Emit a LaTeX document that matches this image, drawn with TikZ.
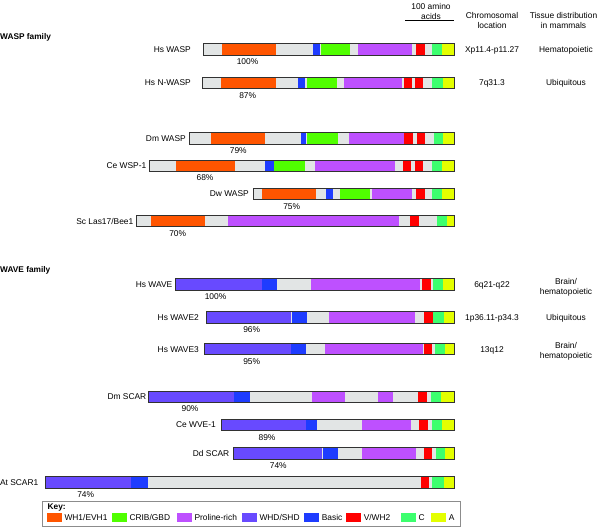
\documentclass[tikz,border=0pt]{standalone}
\usepackage{fontspec}
\setmainfont{Liberation Sans}
\definecolor{gapgray}{RGB}{226,229,229}
\definecolor{wsorange}{RGB}{255,85,0}
\definecolor{cribgreen}{RGB}{80,255,0}
\definecolor{prolinepurple}{RGB}{190,80,255}
\definecolor{whdviolet}{RGB}{104,74,255}
\definecolor{basicblue}{RGB}{30,60,255}
\definecolor{vred}{RGB}{255,0,0}
\definecolor{cgreen}{RGB}{60,255,110}
\definecolor{ayellow}{RGB}{228,255,0}
\definecolor{outlinegray}{RGB}{50,50,50}
\usetikzlibrary{positioning}

% one protein: top edge, left end, segments start/end/colour
\newcommand{\domainrow}[3]{%
  \foreach \sx/\ex/\col in {#3}
    \fill[\col] (\sx,#1) rectangle (\ex,#1+11.5);
  \draw[barline] (#2,#1) rectangle (454,#1+11.5);}

\begin{document}
\begin{tikzpicture}[x=1pt,y=-1pt,
    lbl/.style={font=\fontsize{8.4}{10}\selectfont, inner sep=0pt, text height=6pt, text depth=0pt},
    lbltwo/.style={font=\fontsize{8.4}{10}\selectfont, inner sep=0pt, align=center, anchor=north},
    family/.style={lbl, font=\fontsize{8.3}{10}\selectfont\bfseries, anchor=west},
    barline/.style={draw=outlinegray, line width=0.8pt}]
  \useasboundingbox (0,0) rectangle (600,528);

  % header
  \node[lbltwo] (scaletxt) at (431,3) {100 amino\\acids};
  \draw[line width=1.3pt] (405,20.7) -- (454,20.7);
  \node[lbltwo] (chromhead) at (492,12) {Chromosomal\\location};
  \node[lbltwo] (tissuehead) at (563.5,12) {Tissue distribution\\in mammals};

  % WASP family
  \node[family] (waspfam) at (0,36) {WASP family};

  \domainrow{43.8}{203}{203/221.5/gapgray, 221.5/275.5/wsorange, 275.5/313.4/gapgray,
    313.4/319.5/basicblue, 319.5/320.6/gapgray, 320.6/350.1/cribgreen, 350.1/358.1/gapgray,
    358.1/412.4/prolinepurple, 412.4/416.2/gapgray, 416.2/424.6/vred, 424.6/432.3/gapgray,
    432.3/442.4/cgreen, 442.4/454/ayellow}
  \node[lbl, anchor=east] (hswasp) at (191,49.55) {Hs WASP};
  \node[lbl] (hswasppct) at (247.5,61.6) {100\%};
  \node[lbl] (hswaspchr) at (492,49.55) {Xp11.4-p11.27};
  \node[lbl] (hswasptis) at (566,49.55) {Hematopoietic};

  \domainrow{77.2}{202.7}{202.7/221.2/gapgray, 221.2/275.6/wsorange, 275.6/298.4/gapgray,
    298.4/305.4/basicblue, 305.4/306.7/gapgray, 306.7/336.7/cribgreen, 336.7/343.9/gapgray,
    343.9/401.5/prolinepurple, 401.5/403.8/gapgray, 403.8/412.3/vred, 412.3/414.8/gapgray,
    414.8/423.3/vred, 423.3/432.3/gapgray, 432.3/442.7/cgreen, 442.7/454/ayellow}
  \node[lbl, anchor=east] (hsnwasp) at (191,82.95) {Hs N-WASP};
  \node[lbl] (hsnwasppct) at (247.7,95) {87\%};
  \node[lbl] (hsnwaspchr) at (492,82.95) {7q31.3};
  \node[lbl] (hsnwasptis) at (566,82.95) {Ubiquitous};

  \domainrow{132.6}{189}{189/210.7/gapgray, 210.7/265/wsorange, 265/301/gapgray,
    301/306/basicblue, 306/306.8/gapgray, 306.8/338.3/cribgreen, 338.3/348.7/gapgray,
    348.7/404.3/prolinepurple, 404.3/413.3/vred, 413.3/416.7/gapgray, 416.7/424.7/vred,
    424.7/433.7/gapgray, 433.7/443.3/cgreen, 443.3/454/ayellow}
  \node[lbl, anchor=east] (dmwasp) at (186,138.35) {Dm WASP};
  \node[lbl] (dmwasppct) at (238.3,150.4) {79\%};

  \domainrow{159.9}{149.3}{149.3/176/gapgray, 176/234.7/wsorange, 234.7/265/gapgray,
    265/274/basicblue, 274/305.3/cribgreen, 305.3/315.3/gapgray, 315.3/395.3/prolinepurple,
    395.3/402.7/gapgray, 402.7/411/vred, 411/414.7/gapgray, 414.7/423/vred,
    423/432/gapgray, 432/441.7/cgreen, 441.7/454/ayellow}
  \node[lbl, anchor=east] (cewsp) at (146.5,165.65) {Ce WSP-1};
  \node[lbl] (cewsppct) at (205,177.7) {68\%};

  \domainrow{188.2}{253.3}{253.3/261.7/gapgray, 261.7/315.7/wsorange, 315.7/326/gapgray,
    326/332.7/basicblue, 332.7/340/gapgray, 340/370/cribgreen, 370/372.3/gapgray,
    372.3/412/prolinepurple, 412/416.3/gapgray, 416.3/424.7/vred, 424.7/432.3/gapgray,
    432.3/442/cgreen, 442/454/ayellow}
  \node[lbl, anchor=east] (dwwasp) at (249,193.95) {Dw WASP};
  \node[lbl] (dwwasppct) at (291.7,206) {75\%};

  \domainrow{215.3}{136.7}{136.7/151/gapgray, 151/205.3/wsorange, 205.3/227.7/gapgray,
    227.7/399/prolinepurple, 399/409.5/gapgray, 409.5/418.7/vred, 418.7/437/gapgray,
    437/446.7/cgreen, 446.7/454/ayellow}
  \node[lbl, anchor=east] (sclas) at (133.5,221.05) {Sc Las17/Bee1};
  \node[lbl] (sclaspct) at (177.7,233.1) {70\%};

  % WAVE family
  \node[family] (wavefam) at (0,269.5) {WAVE family};

  \domainrow{278.4}{175.5}{175.5/261.5/whdviolet, 261.5/262.3/gapgray, 262.3/277.4/basicblue,
    277.4/311.1/gapgray, 311.1/419.9/prolinepurple, 419.9/421.9/gapgray, 421.9/430.6/vred,
    430.6/433.2/gapgray, 433.2/443.3/cgreen, 443.3/454/ayellow}
  \node[lbl, anchor=east] (hswave) at (172.5,284.15) {Hs WAVE};
  \node[lbl] (hswavepct) at (215.5,296.2) {100\%};
  \node[lbl] (hswavechr) at (492,284.15) {6q21-q22};
  \node[lbltwo] (hswavetis) at (566,278.7) {Brain/\\hematopoietic};

  \domainrow{311.6}{206}{206/290.8/whdviolet, 290.8/291.5/gapgray, 291.5/307/basicblue,
    307/329.1/gapgray, 329.1/415.1/prolinepurple, 415.1/423.8/gapgray, 423.8/432.9/vred,
    432.9/433.4/gapgray, 433.4/443.9/cgreen, 443.9/454/ayellow}
  \node[lbl, anchor=east] (hswavetwo) at (199,317.35) {Hs WAVE2};
  \node[lbl] (hswavetwopct) at (251.7,329.4) {96\%};
  \node[lbl] (hswavetwochr) at (492,317.35) {1p36.11-p34.3};
  \node[lbl] (hswavetwotis) at (566,317.35) {Ubiquitous};

  \domainrow{343.3}{204.8}{204.8/290.8/whdviolet, 290.8/305.5/basicblue, 305.5/325.4/gapgray,
    325.4/422.8/prolinepurple, 422.8/423.7/gapgray, 423.7/432.4/vred, 432.4/435.1/gapgray,
    435.1/444.9/cgreen, 444.9/454/ayellow}
  \node[lbl, anchor=east] (hswavethree) at (199,349.05) {Hs WAVE3};
  \node[lbl] (hswavethreepct) at (251.7,361.1) {95\%};
  \node[lbl] (hswavethreechr) at (492,349.05) {13q12};
  \node[lbltwo] (hswavethreetis) at (566,342) {Brain/\\hematopoietic};

  \domainrow{391}{148.5}{148.5/234.2/whdviolet, 234.2/249.7/basicblue, 249.7/311.9/gapgray,
    311.9/345.3/prolinepurple, 345.3/378.1/gapgray, 378.1/393/prolinepurple, 393/418.3/gapgray,
    418.3/427/vred, 427/430.8/gapgray, 430.8/440.8/cgreen, 440.8/454/ayellow}
  \node[lbl, anchor=east] (dmscar) at (146.5,396.75) {Dm SCAR};
  \node[lbl] (dmscarpct) at (190,408.8) {90\%};

  \domainrow{419.2}{221}{221/305.5/whdviolet, 305.5/306.2/gapgray, 306.2/316.9/basicblue,
    316.9/362/gapgray, 362/411.4/prolinepurple, 411.4/419.1/gapgray, 419.1/427.9/vred,
    427.9/431.6/gapgray, 431.6/442/cgreen, 442/454/ayellow}
  \node[lbl, anchor=east] (cewve) at (216,424.95) {Ce WVE-1};
  \node[lbl] (cewvepct) at (267,437) {89\%};

  \domainrow{447.8}{233.4}{233.4/322.2/whdviolet, 322.2/323.4/gapgray, 323.4/338.3/basicblue,
    338.3/362/gapgray, 362/415.9/prolinepurple, 415.9/423.7/gapgray, 423.7/432.4/vred,
    432.4/435.5/gapgray, 435.5/445.1/cgreen, 445.1/454/ayellow}
  \node[lbl, anchor=east] (ddscar) at (229.5,453.55) {Dd SCAR};
  \node[lbl] (ddscarpct) at (278.3,465.6) {74\%};

  \domainrow{476.8}{45.2}{45.2/130.8/whdviolet, 130.8/147.6/basicblue, 147.6/420.6/gapgray,
    420.6/429.2/vred, 429.2/432/gapgray, 432/444/cgreen, 444/454/ayellow}
  \node[lbl, anchor=east] (atscar) at (38.5,482.55) {At SCAR1};
  \node[lbl] (atscarpct) at (85.7,494.6) {74\%};

  % key
  \draw[draw=black!45, line width=1pt] (42.7,501.7) rectangle (460,526.7);
  \node[family] (keyhead) at (47.5,506.7) {Key:};
  \foreach \kx/\col/\ktxt [count=\k] in {46.7/wsorange/{WH1/EVH1}, 111.7/cribgreen/{CRIB/GBD},
      176.7/prolinepurple/Proline-rich, 241.7/whdviolet/{WHD/SHD}, 304/basicblue/Basic,
      346/vred/{V/WH2}, 400.7/cgreen/C, 431/ayellow/A}
  {
    \fill[\col] (\kx,513.3) rectangle ++(15.3,9);
    \node[lbl, anchor=west] (key\k) at (\kx+17.6,517.8) {\ktxt};
  }
\end{tikzpicture}
\end{document}
